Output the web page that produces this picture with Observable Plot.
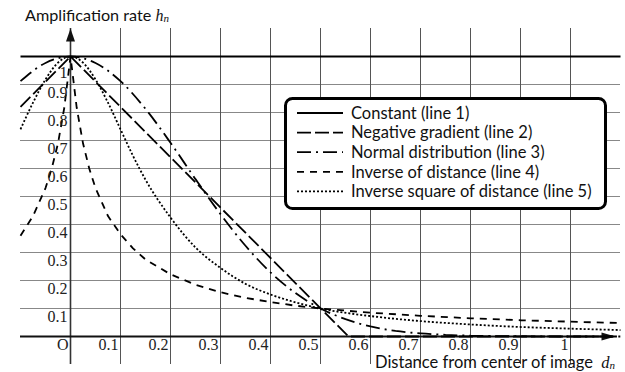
<!DOCTYPE html>
<html>
<head>
<meta charset="utf-8">
<script src="https://cdn.jsdelivr.net/npm/d3@7"></script>
<script src="https://cdn.jsdelivr.net/npm/@observablehq/plot@0.6"></script>
<style>
  html, body { margin: 0; padding: 0; background: #fff; }
  #chart svg { display: block; }
</style>
</head>
<body>
<div id="chart"></div>
<script>
// ---- data ----
const xDomain = [-0.1, 1.1];
const yDomain = [-0.1, 1.1];
const xTicks = [0, 0.1, 0.2, 0.3, 0.4, 0.5, 0.6, 0.7, 0.8, 0.9, 1];
const xTickLabels = ["O", "0.1", "0.2", "0.3", "0.4", "0.5", "0.6", "0.7", "0.8", "0.9", "1"];
const yTicks = [0.1, 0.2, 0.3, 0.4, 0.5, 0.6, 0.7, 0.8, 0.9];
const yTickLabels = ["0.1", "0.2", "0.3", "0.4", "0.5", "0.6", "0.7", "0.8", "0.9"];
const yTopTick = [1];
const yTopTickLabel = ["1"];

const seriesNames = [
  "Constant (line 1)",
  "Negative gradient (line 2)",
  "Normal distribution (line 3)",
  "Inverse of distance (line 4)",
  "Inverse square of distance (line 5)"
];

// line 1: constant
const dist1 = [-0.1, 1.1];
const h1 = [1, 1];
// line 2: negative gradient
const dist2 = [-0.1, 0, 0.556, 1.1];
const h2 = [0.82, 1, 0, 0];
// line 3: normal distribution
const dist3 = [-0.1, -0.05, 0, 0.05, 0.1, 0.15, 0.2, 0.25, 0.3, 0.35, 0.4, 0.45, 0.5, 0.55, 0.6, 0.65, 0.7, 0.75, 0.8, 0.9, 1.0, 1.1];
const h3 = [0.912, 0.977, 1, 0.977, 0.912, 0.813, 0.692, 0.562, 0.437, 0.324, 0.229, 0.155, 0.100, 0.062, 0.036, 0.020, 0.011, 0.006, 0.003, 0.001, 0, 0];
// line 4: inverse of distance
const dist4 = [-0.1, -0.075, -0.05, -0.0375, -0.025, -0.0125, 0, 0.0125, 0.025, 0.0375, 0.05, 0.075, 0.1, 0.125, 0.15, 0.2, 0.25, 0.3, 0.35, 0.4, 0.45, 0.5, 0.6, 0.7, 0.8, 0.9, 1.0, 1.1];
const h4 = [0.36, 0.43, 0.53, 0.60, 0.69, 0.816, 1, 0.816, 0.69, 0.60, 0.53, 0.43, 0.365, 0.315, 0.275, 0.222, 0.185, 0.158, 0.138, 0.123, 0.110, 0.100, 0.085, 0.074, 0.065, 0.058, 0.053, 0.048];
// line 5: inverse square of distance
const dist5 = [-0.1, -0.075, -0.05, -0.025, 0, 0.025, 0.05, 0.075, 0.1, 0.125, 0.15, 0.2, 0.25, 0.3, 0.35, 0.4, 0.45, 0.5, 0.6, 0.7, 0.8, 0.9, 1.0, 1.1];
const h5 = [0.74, 0.835, 0.918, 0.978, 1, 0.978, 0.918, 0.835, 0.74, 0.645, 0.56, 0.425, 0.318, 0.245, 0.188, 0.150, 0.122, 0.100, 0.073, 0.055, 0.043, 0.034, 0.028, 0.023];

// ---- styles ----
const dashes = ["none", "14,4", "14,5,2,5", "7,6", "2,2"];
const serif = "Liberation Serif";
const sans = "Lato";

const zip = (xs, ys) => xs.map((x, i) => ({x, y: ys[i]}));
const series = [zip(dist1, h1), zip(dist2, h2), zip(dist3, h3), zip(dist4, h4), zip(dist5, h5)];

const arrowUp = {draw(ctx) { ctx.moveTo(0, 0); ctx.lineTo(4.5, 13); ctx.lineTo(-4.5, 13); ctx.closePath(); }};
const arrowRight = {draw(ctx) { ctx.moveTo(0, 0); ctx.lineTo(-14, -4); ctx.lineTo(-14, 4); ctx.closePath(); }};

const plot = Plot.plot({
  width: 625,
  height: 372,
  marginLeft: 20,
  marginRight: 5,
  marginTop: 28,
  marginBottom: 8,
  x: {domain: xDomain, axis: null},
  y: {domain: yDomain, axis: null},
  style: {background: "#fff", overflow: "visible"},
  marks: [
    Plot.ruleY(yTicks, {x1: xDomain[0], x2: xDomain[1], stroke: "#888", strokeWidth: 1}),
    Plot.ruleX(xTicks.slice(1), {y1: yDomain[0], y2: yDomain[1], stroke: "#555", strokeWidth: 1}),
    // axes
    Plot.ruleX([0], {y1: yDomain[0], y2: yDomain[1], stroke: "#333", strokeWidth: 1.6}),
    Plot.ruleY([0], {x1: xDomain[0], x2: 1.085, stroke: "#111", strokeWidth: 2}),
    Plot.dot([0], {x: 0, y: yDomain[1], symbol: arrowUp, fill: "#111", stroke: "none"}),
    Plot.dot([0], {x: 1.09, y: 0, symbol: arrowRight, fill: "#111", stroke: "none"}),
    // curves
    ...series.map((s, i) => Plot.line(s, {
      x: "x", y: "y",
      stroke: "#000",
      strokeWidth: i === 0 ? 2.2 : 1.8,
      strokeDasharray: dashes[i],
      strokeLinecap: "butt",
      strokeLinejoin: "miter",
      curve: i === 2 || i === 4 ? "monotone-x" : "linear"
    })),
    // tick labels
    Plot.text(yTicks, {x: 0, y: d => d, text: (d, i) => yTickLabels[i], textAnchor: "end", dx: -3, dy: 8, fontFamily: serif, fontSize: 16, fill: "#222"}),
    Plot.text(yTopTick, {x: 0, y: d => d, text: (d, i) => yTopTickLabel[i], textAnchor: "end", dx: -3, dy: 16, fontFamily: serif, fontSize: 16, fill: "#222"}),
    Plot.text(xTicks, {x: d => d, y: 0, text: (d, i) => xTickLabels[i], textAnchor: "end", dx: -2, dy: 8, fontFamily: serif, fontSize: 16, fill: "#222"})
  ]
});

document.getElementById("chart").appendChild(plot);

// ---- titles and legend ----
const svg = d3.select(plot);

const yt = svg.append("text").attr("x", 25).attr("y", 21).attr("text-anchor", "start")
  .attr("font-family", sans).attr("font-size", 16.2).attr("fill", "#111");
yt.append("tspan").text("Amplification rate\u00a0");
yt.append("tspan").attr("font-family", serif).attr("font-style", "italic").attr("font-size", 16).text("h");
yt.append("tspan").attr("font-family", serif).attr("font-style", "italic").attr("font-size", 11).attr("dy", 1).text("n");

const xt = svg.append("text").attr("x", 375).attr("y", 367.5).attr("text-anchor", "start")
  .attr("font-family", sans).attr("font-size", 16.5).attr("fill", "#111");
xt.append("tspan").text("Distance from center of image\u00a0\u00a0");
xt.append("tspan").attr("font-family", serif).attr("font-style", "italic").attr("font-size", 16.5).text("d");
xt.append("tspan").attr("font-family", serif).attr("font-style", "italic").attr("font-size", 11).attr("dy", 1).text("n");

const lg = svg.append("g");
lg.append("rect").attr("x", 285.5).attr("y", 98.5).attr("width", 320).attr("height", 110)
  .attr("rx", 7).attr("fill", "#fff").attr("stroke", "#000").attr("stroke-width", 3);
seriesNames.forEach((name, i) => {
  const y = 113 + i * 19.6;
  lg.append("line").attr("x1", 297).attr("x2", 343).attr("y1", y).attr("y2", y)
    .attr("stroke", "#000").attr("stroke-width", 1.8).attr("stroke-dasharray", dashes[i]);
  lg.append("text").attr("x", 351).attr("y", y).attr("dy", "0.35em").attr("text-anchor", "start")
    .attr("font-family", sans).attr("font-size", 16.5).attr("fill", "#111").text(name);
});
</script>
</body>
</html>
